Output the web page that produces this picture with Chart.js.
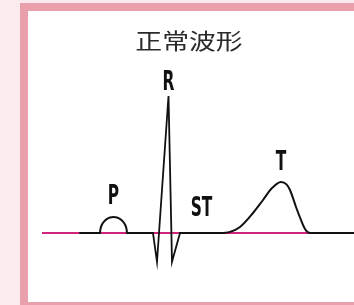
<!DOCTYPE html>
<html>
<head>
<meta charset="utf-8">
<script src="https://cdn.jsdelivr.net/npm/chart.js@4/dist/chart.umd.min.js"></script>
<style>
  html, body { margin: 0; padding: 0; width: 354px; height: 305px; overflow: hidden; background: #fbeaee; }
  #frame { position: absolute; left: 20px; top: 3px; width: 400px; height: 291px; border: 8px solid #e99fac; background: #ffffff; }
  #c { position: absolute; left: 0; top: 0; }
</style>
</head>
<body>
<div id="frame"></div>
<canvas id="c" width="354" height="305"></canvas>
<script>
// Title
const titleText = "正常波形";

// Waveform samples: time in ms, amplitude in mV
const baselineLead = [[0, 0], [80, 0]];
const pWave = [[80, 0], [82, 0.03], [87, 0.058], [96, 0.083], [107, 0.101], [120, 0.113], [134, 0.117], [148, 0.113], [161, 0.101], [172, 0.083], [181, 0.058], [186, 0.03], [188, 0]];
const prSegment = [[188, 0], [292, 0]];
const qrsComplex = [[292, 0], [308, -0.21], [354, 1.0], [368, -0.21], [400, 0]];
const stSegment = [[400, 0], [572, 0]];
const tWave = [[572, 0], [600, 0.008], [640, 0.044], [692, 0.146], [732, 0.241], [768, 0.328], [804, 0.372], [826, 0.355], [840, 0.314], [864, 0.19], [884, 0.095], [900, 0.03], [912, 0.005], [920, 0]];
const baselineTail = [[920, 0], [1096, 0]];
const isoelectric = [[-152, 0], [1096, 0]];

// Wave labels: text, anchor point
const waveLabels = ["P", "R", "ST", "T"];
const labelAnchors = [[134, 0.117], [354, 1.0], [486, 0], [804, 0.372]];

const toPts = a => a.map(p => ({ x: p[0], y: p[1] }));

const black = "#111111";
const mk = (data, opts) => Object.assign({
  data: toPts(data), borderColor: black, borderWidth: 2, pointRadius: 0,
  fill: false, tension: 0, clip: false, borderJoinStyle: "round", borderCapStyle: "round"
}, opts || {});

const labelPlugin = {
  id: "ecgLabels",
  afterDatasetsDraw(chart) {
    const ctx = chart.ctx;
    const xs = chart.scales.x, ys = chart.scales.y;
    const offsets = [-20, -13, -24, -19];
    ctx.save();
    ctx.fillStyle = "#111111";
    ctx.textAlign = "center";
    ctx.textBaseline = "middle";
    ctx.font = "bold 26px 'Liberation Sans Narrow', 'DejaVu Sans Condensed', sans-serif";
    waveLabels.forEach((t, i) => {
      const px = xs.getPixelForValue(labelAnchors[i][0]);
      const py = ys.getPixelForValue(labelAnchors[i][1]) + offsets[i];
      ctx.save();
      ctx.translate(px, py);
      ctx.scale(0.66, 1);
      ctx.fillText(t, 0, 0);
      ctx.restore();
    });
    // title
    ctx.fillStyle = "#2b2b2b";
    ctx.font = "400 22px 'Noto Sans CJK JP', sans-serif";
    ctx.translate(189, 41);
    ctx.scale(1.22, 1);
    ctx.fillText(titleText, 0, 0);
    ctx.restore();
  }
};

new Chart(document.getElementById("c"), {
  type: "line",
  data: {
    datasets: [
      mk(baselineLead),
      mk(pWave, { tension: 0.3 }),
      mk(prSegment),
      mk(qrsComplex, { borderWidth: 1.8, borderJoinStyle: "miter" }),
      mk(stSegment),
      mk(tWave, { cubicInterpolationMode: "monotone" }),
      mk(baselineTail),
      mk(isoelectric, { borderColor: "#d0237c", borderWidth: 2, borderCapStyle: "butt" })
    ]
  },
  options: {
    responsive: false,
    animation: false,
    devicePixelRatio: 1,
    layout: { padding: 0 },
    plugins: { legend: { display: false }, tooltip: { enabled: false }, title: { display: false } },
    scales: {
      x: { type: "linear", min: -320, max: 1096, display: false },
      y: { type: "linear", min: -0.5255, max: 1.7007, display: false }
    },
    events: []
  },
  plugins: [labelPlugin]
});
</script>
</body>
</html>
